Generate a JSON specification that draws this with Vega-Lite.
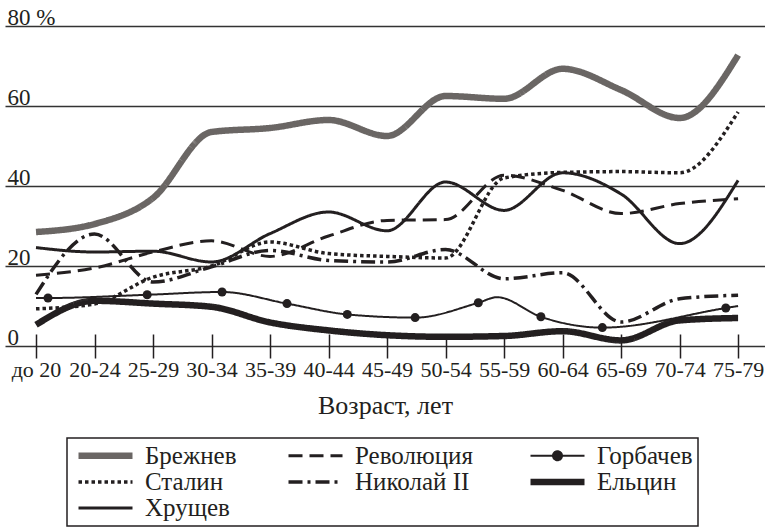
{
  "$schema": "https://vega.github.io/schema/vega-lite/v6.json",
  "width": 760,
  "height": 320,
  "autosize": {"type": "none"},
  "padding": {"left": 5, "top": 26, "right": 0, "bottom": 183},
  "background": "white",
  "config": {
    "font": "Liberation Serif",
    "view": {"stroke": null},
    "axis": {"labelFont": "Liberation Serif", "titleFont": "Liberation Serif", "labelColor": "#231f20", "titleColor": "#231f20", "titleFontWeight": "normal"}
  },
  "datasets": {
    "lines": [
      {"series": "Брежнев", "idx": 0, "pct": 28.5}, {"series": "Брежнев", "idx": 1, "pct": 30.5}, {"series": "Брежнев", "idx": 2, "pct": 37}, {"series": "Брежнев", "idx": 3, "pct": 53.5}, {"series": "Брежнев", "idx": 4, "pct": 54.5}, {"series": "Брежнев", "idx": 5, "pct": 56.5}, {"series": "Брежнев", "idx": 6, "pct": 52.5}, {"series": "Брежнев", "idx": 7, "pct": 62.5}, {"series": "Брежнев", "idx": 8, "pct": 61.8}, {"series": "Брежнев", "idx": 9, "pct": 69.3}, {"series": "Брежнев", "idx": 10, "pct": 64}, {"series": "Брежнев", "idx": 11, "pct": 57}, {"series": "Брежнев", "idx": 12, "pct": 72.7},
      {"series": "Революция", "idx": 0, "pct": 17.7}, {"series": "Революция", "idx": 1, "pct": 19.5}, {"series": "Революция", "idx": 2, "pct": 23.5}, {"series": "Революция", "idx": 3, "pct": 26.3}, {"series": "Революция", "idx": 4, "pct": 22.4}, {"series": "Революция", "idx": 5, "pct": 27.5}, {"series": "Революция", "idx": 6, "pct": 31.4}, {"series": "Революция", "idx": 7, "pct": 31.6}, {"series": "Революция", "idx": 8, "pct": 42.7}, {"series": "Революция", "idx": 9, "pct": 38.9}, {"series": "Революция", "idx": 10, "pct": 33.1}, {"series": "Революция", "idx": 11, "pct": 35.6}, {"series": "Революция", "idx": 12, "pct": 36.8},
      {"series": "Горбачев", "idx": 0, "pct": 12, "marker": false}, {"series": "Горбачев", "idx": 0.205, "pct": 12, "marker": true}, {"series": "Горбачев", "idx": 1.9, "pct": 12.8, "marker": true}, {"series": "Горбачев", "idx": 3.18, "pct": 13.5, "marker": true}, {"series": "Горбачев", "idx": 4.29, "pct": 10.6, "marker": true}, {"series": "Горбачев", "idx": 5.32, "pct": 7.9, "marker": true}, {"series": "Горбачев", "idx": 6.48, "pct": 7.1, "marker": true}, {"series": "Горбачев", "idx": 7.56, "pct": 10.8, "marker": true}, {"series": "Горбачев", "idx": 7.88, "pct": 12.2, "marker": false}, {"series": "Горбачев", "idx": 8.63, "pct": 7.3, "marker": true}, {"series": "Горбачев", "idx": 9.68, "pct": 4.6, "marker": true}, {"series": "Горбачев", "idx": 11.79, "pct": 9.5, "marker": true}, {"series": "Горбачев", "idx": 12, "pct": 10, "marker": false},
      {"series": "Сталин", "idx": 0, "pct": 9.3}, {"series": "Сталин", "idx": 1, "pct": 10.5}, {"series": "Сталин", "idx": 2, "pct": 17.2}, {"series": "Сталин", "idx": 3, "pct": 20}, {"series": "Сталин", "idx": 4, "pct": 26}, {"series": "Сталин", "idx": 5, "pct": 23.1}, {"series": "Сталин", "idx": 6, "pct": 22.4}, {"series": "Сталин", "idx": 7, "pct": 22}, {"series": "Сталин", "idx": 8, "pct": 42}, {"series": "Сталин", "idx": 9, "pct": 43.4}, {"series": "Сталин", "idx": 10, "pct": 43.6}, {"series": "Сталин", "idx": 11, "pct": 43.3}, {"series": "Сталин", "idx": 12, "pct": 58.5},
      {"series": "Николай II", "idx": 0, "pct": 12.9}, {"series": "Николай II", "idx": 1, "pct": 28}, {"series": "Николай II", "idx": 2, "pct": 16}, {"series": "Николай II", "idx": 3, "pct": 19.8}, {"series": "Николай II", "idx": 4, "pct": 23.9}, {"series": "Николай II", "idx": 5, "pct": 21.4}, {"series": "Николай II", "idx": 6, "pct": 21}, {"series": "Николай II", "idx": 7, "pct": 24.1}, {"series": "Николай II", "idx": 8, "pct": 16.8}, {"series": "Николай II", "idx": 9, "pct": 18.3}, {"series": "Николай II", "idx": 10, "pct": 6}, {"series": "Николай II", "idx": 11, "pct": 11.8}, {"series": "Николай II", "idx": 12, "pct": 12.7},
      {"series": "Ельцин", "idx": 0, "pct": 5.3}, {"series": "Ельцин", "idx": 1, "pct": 11.3}, {"series": "Ельцин", "idx": 2, "pct": 10.6}, {"series": "Ельцин", "idx": 3, "pct": 9.8}, {"series": "Ельцин", "idx": 4, "pct": 5.9}, {"series": "Ельцин", "idx": 5, "pct": 3.9}, {"series": "Ельцин", "idx": 6, "pct": 2.7}, {"series": "Ельцин", "idx": 7, "pct": 2.3}, {"series": "Ельцин", "idx": 8, "pct": 2.5}, {"series": "Ельцин", "idx": 9, "pct": 3.7}, {"series": "Ельцин", "idx": 10, "pct": 1.4}, {"series": "Ельцин", "idx": 11, "pct": 6.4}, {"series": "Ельцин", "idx": 12, "pct": 7},
      {"series": "Хрущев", "idx": 0, "pct": 24.6}, {"series": "Хрущев", "idx": 1, "pct": 23.5}, {"series": "Хрущев", "idx": 2, "pct": 23.7}, {"series": "Хрущев", "idx": 3, "pct": 21}, {"series": "Хрущев", "idx": 4, "pct": 28.1}, {"series": "Хрущев", "idx": 5, "pct": 33.5}, {"series": "Хрущев", "idx": 6, "pct": 28.8}, {"series": "Хрущев", "idx": 7, "pct": 41}, {"series": "Хрущев", "idx": 8, "pct": 33.9}, {"series": "Хрущев", "idx": 9, "pct": 43.3}, {"series": "Хрущев", "idx": 10, "pct": 38}, {"series": "Хрущев", "idx": 11, "pct": 25.6}, {"series": "Хрущев", "idx": 12, "pct": 41.4}
    ]
  },
  "layer": [
    {
      "data": {"name": "lines"},
      "mark": {"type": "line", "interpolate": "monotone", "strokeCap": "butt"},
      "encoding": {
        "x": {
          "field": "idx", "type": "quantitative",
          "scale": {"domain": [-0.53, 12.46], "nice": false, "zero": false},
          "axis": {
            "values": [0, 1, 2, 3, 4, 5, 6, 7, 8, 9, 10, 11, 12],
            "labelExpr": "['до 20','20-24','25-29','30-34','35-39','40-44','45-49','50-54','55-59','60-64','65-69','70-74','75-79'][datum.value]",
            "domain": false, "grid": false, "ticks": true, "tickSize": 24, "offset": -12,
            "tickColor": "#231f20", "tickWidth": 1.5,
            "labelFontSize": 22, "labelPadding": 1, "labelOverlap": false, "labelFlush": false, "labelBound": false,
            "title": "Возраст, лет", "titleFontSize": 26, "titlePadding": 12
          }
        },
        "y": {
          "field": "pct", "type": "quantitative",
          "scale": {"domain": [0, 80], "nice": false},
          "axis": {
            "values": [0, 20, 40, 60, 80],
            "labelExpr": "datum.value == 80 ? '80 %' : (datum.value == 0 ? '\u2007' + '0' : datum.label)",
            "domain": false, "ticks": false, "tickSize": 0, "grid": true, "gridColor": "#333333", "gridWidth": 1.5, "gridOpacity": 1,
            "labelAlign": "left", "labelBaseline": "alphabetic", "labelPadding": -2, "labelOffset": -2,
            "labelFontSize": 23, "labelOverlap": false, "labelFlush": false, "title": null
          }
        },
        "color": {
          "field": "series", "type": "nominal",
          "scale": {"domain": ["Брежнев", "Революция", "Горбачев", "Сталин", "Николай II", "Ельцин", "Хрущев"], "range": ["#6a6664", "#231f20", "#231f20", "#231f20", "#231f20", "#231f20", "#231f20"]},
          "legend": {
            "title": null, "orient": "none", "direction": "horizontal", "legendX": 62, "legendY": 412, "columns": 3,
            "values": ["Брежнев", "Революция", "Горбачев", "Сталин", "Николай II", "Ельцин", "Хрущев"],
            "labelFont": "Liberation Serif", "labelFontSize": 25, "labelColor": "#231f20",
            "symbolType": "M-0.8,0H6.4", "symbolSize": 225, "labelOffset": 48,
            "columnPadding": 44, "rowPadding": -0.5, "padding": 5, "strokeColor": "#231f20",
            "encode": {
              "symbols": {"update": {
                "shape": {"signal": "datum.value === 'Горбачев' ? 'M-0.8,0H6.4M2.2,0A0.6,0.6 0 1,0 3.4,0A0.6,0.6 0 1,0 2.2,0' : 'M-0.8,0H6.4'"},
                "fill": {"signal": "datum.value === 'Горбачев' ? '#231f20' : 'transparent'"}
              }},
              "legend": {"update": {"strokeWidth": {"value": 1.5}}}
            }
          }
        },
        "strokeDash": {
          "field": "series", "type": "nominal",
          "scale": {"domain": ["Брежнев", "Революция", "Горбачев", "Сталин", "Николай II", "Ельцин", "Хрущев"], "range": [[1, 0], [14, 7], [1, 0], [3.5, 3], [14, 5, 3, 5], [1, 0], [1, 0]]},
          "legend": {"title": null}
        },
        "strokeWidth": {
          "field": "series", "type": "nominal",
          "scale": {"type": "ordinal", "domain": ["Брежнев", "Революция", "Горбачев", "Сталин", "Николай II", "Ельцин", "Хрущев"], "range": [6.5, 3, 2, 3.5, 3.5, 6.5, 3]},
          "legend": {"title": null}
        }
      }
    },
    {
      "data": {"name": "lines"},
      "transform": [{"filter": "datum.marker === true"}],
      "mark": {"type": "point", "filled": true, "size": 81, "color": "#231f20", "opacity": 1},
      "encoding": {
        "x": {"field": "idx", "type": "quantitative"},
        "y": {"field": "pct", "type": "quantitative"}
      }
    }
  ]
}
